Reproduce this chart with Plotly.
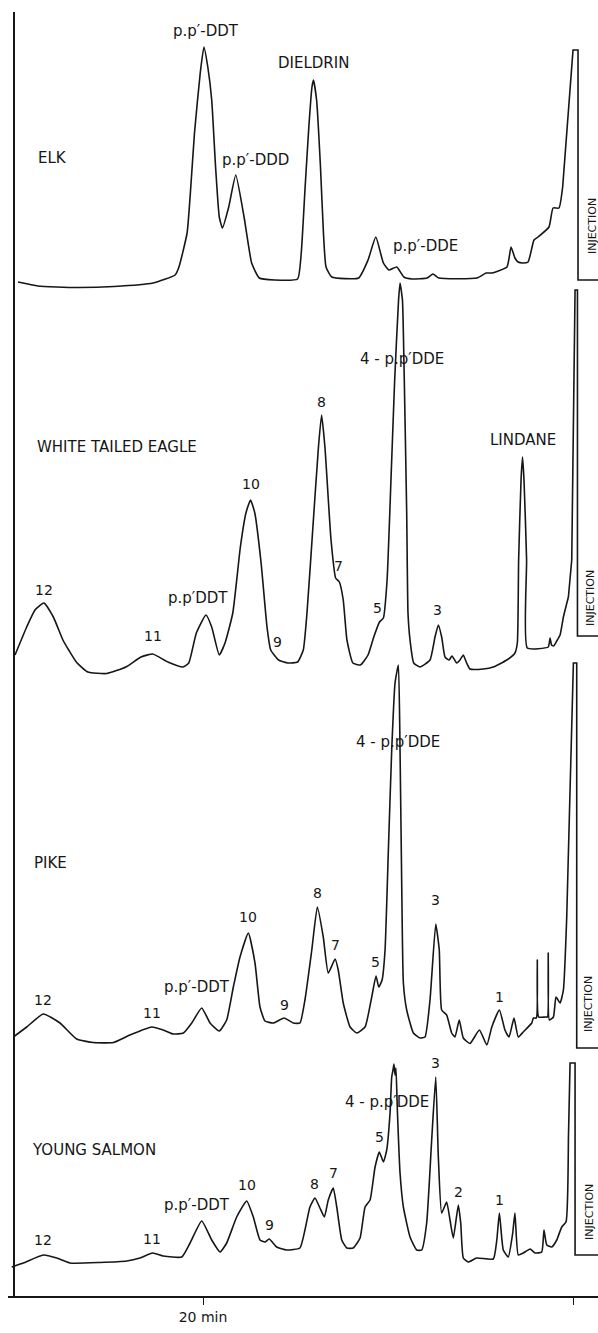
import plotly.graph_objects as go

# ---------------- data (retention time in min, detector response in chart units) ----------------
SAMPLES = ["ELK", "WHITE TAILED EAGLE", "PIKE", "YOUNG SALMON"]

ELK_T = [30.00, 28.92, 26.86, 24.81, 22.70, 21.51, 21.30, 20.86, 20.66, 20.46, 20.15, 19.95, 19.74,
         19.53, 19.32, 19.12, 18.95, 18.61, 18.23, 17.78, 17.37, 16.96, 16.13, 14.89, 14.69, 14.48,
         14.28, 14.11, 14.03, 13.86, 13.65, 13.49, 13.35, 13.04, 11.59, 11.08, 10.66, 10.25, 9.95,
         9.53, 9.14, 8.70, 7.89, 7.57, 7.26, 5.19, 4.70, 4.38, 3.57, 3.35, 3.14, 2.97, 2.73, 2.43,
         2.11, 1.89, 1.30, 1.08, 0.76, 0.56, 0.00, -0.27, -0.27, -1.35]
ELK_R = [5, 1, -0.5, 0.5, 4, 12, 20, 54, 100, 154, 214, 240, 220, 187, 120, 70, 59, 80, 112, 70, 24,
         9, 7, 8, 34, 100, 160, 200, 207, 187, 120, 54, 20, 10, 9, 27, 50, 24, 17, 20, 10, 8, 9, 13,
         9, 9, 14, 14, 20, 40, 29, 25, 24, 25, 47, 50, 60, 79, 79, 100, 237, 237, 7, 7]

EAGLE_T = [30.16, 29.53, 29.08, 28.60, 28.09, 27.57, 27.26, 26.85, 26.23, 25.20, 24.17, 23.35, 22.72,
           21.90, 21.08, 20.77, 20.36, 19.84, 19.53, 19.12, 18.81, 18.39, 17.98, 17.68, 17.43, 17.20,
           16.86, 16.54, 16.34, 15.92, 15.41, 14.89, 14.58, 14.38, 14.07, 13.76, 13.59, 13.41, 13.08,
           12.83, 12.63, 12.42, 12.22, 11.90, 11.49, 11.08, 10.77, 10.46, 10.25, 10.05, 9.84, 9.64,
           9.43, 9.35, 9.22, 9.12, 8.99, 8.92, 8.81, 8.61, 8.27, 7.73, 7.46, 7.28, 7.10, 6.92, 6.70,
           6.54, 6.29, 6.11, 5.93, 5.75, 5.57, 4.85, 4.31, 3.58, 3.14, 3.01, 2.94, 2.81, 2.73, 2.65,
           2.51, 2.47, 1.34, 1.24, 1.16, 1.05, 0.88, 0.70, 0.52, 0.25, 0.07, -0.11, -0.24, -0.24, -1.35]
EAGLE_R = [18, 46, 63, 70, 56, 33, 23, 11, 1, -0.5, 6, 16, 19, 11, 6, 10, 40, 58, 46, 18, 30, 60, 126,
           160, 173, 160, 110, 46, 23, 13, 10, 11, 23, 60, 143, 226, 258, 226, 133, 95, 91, 73, 33,
           10, 8, 18, 36, 51, 55, 93, 193, 293, 373, 390, 373, 293, 160, 60, 33, 10, 6, 13, 36, 48,
           36, 16, 13, 17, 10, 13, 18, 10, 4, 4, 6, 13, 20, 30, 113, 193, 216, 193, 113, 25, 26, 35,
           28, 27, 32, 38, 56, 76, 113, 383, 383, 37, 37]

PIKE_T = [30.25, 29.53, 28.63, 27.73, 26.83, 25.93, 24.85, 23.95, 22.77, 22.15, 21.61, 21.06, 20.61,
          20.07, 19.62, 19.12, 18.72, 18.36, 18.00, 17.55, 17.19, 16.92, 16.65, 16.20, 15.62, 15.12,
          14.76, 14.49, 14.12, 13.82, 13.50, 13.23, 12.86, 12.69, 12.42, 12.05, 11.69, 11.24, 10.88,
          10.65, 10.50, 10.32, 10.16, 9.98, 9.80, 9.62, 9.44, 9.35, 9.26, 9.17, 8.99, 8.63, 8.27,
          8.00, 7.73, 7.42, 7.23, 7.10, 6.83, 6.56, 6.38, 6.15, 5.93, 5.57, 5.06, 4.66, 4.39, 3.98,
          3.68, 3.46, 3.19, 2.96, 2.69, 2.23, 2.14, 1.98, 1.93, 1.86, 1.51, 1.38, 1.34, 1.28, 1.06,
          0.92, 0.70, 0.52, 0.34, 0.07, -0.02, -0.20, -0.20, -1.35]
PIKE_R = [6, 16, 29, 20, 4, 0.5, 0.5, 8, 16, 13, 9, 10, 20, 35, 20, 12, 23, 56, 86, 110, 80, 36, 22,
          20, 25, 20, 20, 43, 93, 136, 106, 70, 84, 73, 40, 16, 10, 16, 46, 67, 56, 63, 93, 193, 293,
          360, 378, 293, 160, 60, 33, 10, 5, 6, 43, 119, 93, 33, 28, 10, 6, 23, 5, -0.5, 13, -2, 16,
          33, 13, 6, 25, 6, 11, 20, 25, 25, 83, 26, 26, 26, 90, 23, 26, 46, 40, 53, 126, 326, 380,
          380, -5, -5]

SALMON_T = [30.34, 29.71, 28.63, 27.91, 27.19, 25.57, 24.12, 23.41, 22.72, 22.15, 21.15, 20.70, 20.07,
            19.53, 19.08, 18.72, 18.18, 17.64, 17.28, 16.92, 16.65, 16.42, 16.02, 15.48, 14.76, 14.49,
            14.22, 13.95, 13.68, 13.44, 13.23, 12.96, 12.77, 12.50, 12.23, 11.88, 11.51, 11.24, 10.97,
            10.70, 10.47, 10.25, 10.07, 9.89, 9.80, 9.73, 9.68, 9.62, 9.57, 9.50, 9.35, 9.17, 8.81,
            8.45, 8.18, 7.91, 7.64, 7.42, 7.28, 7.10, 6.83, 6.65, 6.47, 6.20, 6.07, 5.93, 5.66, 5.21,
            4.31, 4.12, 3.98, 3.77, 3.50, 3.26, 3.14, 2.96, 2.69, 2.32, 2.05, 1.69, 1.57, 1.42, 1.15,
            0.88, 0.61, 0.38, 0.25, 0.16, -0.11, -0.11, -1.35]
SALMON_R = [-4, 0, 8, 5, 0, 0.5, 2, 5, 10, 7, 6, 20, 42, 23, 11, 20, 46, 62, 46, 23, 21, 24, 16, 13,
            15, 33, 56, 65, 55, 46, 63, 75, 56, 23, 15, 15, 25, 56, 63, 96, 111, 101, 113, 150, 186,
            193, 199, 188, 195, 156, 90, 56, 26, 13, 13, 40, 123, 186, 106, 50, 61, 43, 25, 58, 40, 5,
            1, 5, 4, 23, 50, 13, 6, 30, 50, 8, 10, 14, 10, 11, 33, 18, 16, 23, 36, 41, 123, 200, 200,
            8, 8]

# peak labels: (text, retention time, response)
ELK_LABELS = [("p.p′-DDT", 19.84, 256), ("p.p′-DDD", 17.14, 127), ("DIELDRIN", 14.03, 224),
              ("p.p′-DDE", 8.00, 41)]
EAGLE_LABELS = [("12", 28.60, 83), ("11", 22.72, 37), ("p.p′DDT", 20.27, 75), ("10", 17.43, 189),
                ("9", 15.95, 31), ("8", 13.59, 271), ("7", 12.66, 107), ("5", 10.56, 65),
                ("4 - p.p′DDE", 9.24, 314), ("3", 7.31, 63), ("LINDANE", 2.73, 233)]
PIKE_LABELS = [("12", 28.63, 43), ("11", 22.77, 30), ("p.p′-DDT", 20.34, 56), ("10", 17.55, 126),
               ("9", 15.62, 38), ("8", 13.82, 150), ("7", 12.86, 98), ("5", 10.65, 81),
               ("4 - p.p′DDE", 9.44, 301), ("3", 7.42, 143), ("1", 3.98, 46)]
SALMON_LABELS = [("12", 28.63, 23), ("11", 22.77, 24), ("p.p′-DDT", 20.34, 58), ("10", 17.64, 78),
                 ("9", 16.38, 38), ("8", 13.95, 79), ("7", 12.96, 90), ("5", 10.47, 126),
                 ("4 - p.p′DDE", 10.07, 161), ("3", 7.42, 200), ("2", 6.20, 71), ("1", 3.98, 63)]
NAME_POS = [(29.03, 129), (29.08, 226), (29.26, 180), (29.35, 113)]
INJECTION_POS = [(-1.03, 61), (-0.92, 75), (-0.81, 39), (-0.86, 51)]

X_TICKS = [20, 0]
X_TICKTEXT = ["20 min", ""]

# ---------------- layout constants ----------------
W, H = 598, 1333
FRAME_TOP, FRAME_BOTTOM = 12, 1297      # pixel rows of the frame
FRAME_LEFT = 8
BASE_ROWS = [287, 673, 1043, 1263]      # pixel row of each trace's baseline (1 unit = 1 px)
X_RANGE = [30.54, -1.35]
INJECTION_SPLIT = 0.2                   # min; recorder pen at injection drawn with straight strokes
INK = "#161616"
FONT = "DejaVu Sans"

fig = go.Figure()
series = [(ELK_T, ELK_R), (EAGLE_T, EAGLE_R), (PIKE_T, PIKE_R), (SALMON_T, SALMON_R)]
axes = ["y", "y2", "y3", "y4"]
for (t, r), ax, name in zip(series, axes, SAMPLES):
    k = next(i for i, v in enumerate(t) if v < INJECTION_SPLIT)
    fig.add_trace(go.Scatter(x=t[:k], y=r[:k], yaxis=ax, mode="lines", name=name, showlegend=False,
                             hoverinfo="skip",
                             line=dict(color=INK, width=1.6, shape="spline", smoothing=0.45)))
    fig.add_trace(go.Scatter(x=t[k - 1:], y=r[k - 1:], yaxis=ax, mode="lines", name=name,
                             showlegend=False, hoverinfo="skip",
                             line=dict(color=INK, width=1.6, shape="linear")))

dom = [(H - FRAME_BOTTOM) / H, (H - FRAME_TOP) / H]


def yrange(base):
    return [base - FRAME_BOTTOM, base - FRAME_TOP]


layout = dict(
    width=W, height=H, margin=dict(l=0, r=0, t=0, b=0),
    paper_bgcolor="white", plot_bgcolor="white", showlegend=False,
    xaxis=dict(domain=[FRAME_LEFT / W, 1], range=X_RANGE, anchor="free", position=dom[0],
               showline=True, linecolor=INK, linewidth=1.8, showgrid=False, zeroline=False,
               ticks="outside", ticklen=7, tickwidth=1.3, tickcolor=INK,
               tickvals=X_TICKS, ticktext=X_TICKTEXT,
               tickfont=dict(family=FONT, size=14, color=INK)),
    yaxis=dict(domain=dom, range=yrange(BASE_ROWS[0]), anchor="free", position=14 / W,
               showline=True, linecolor=INK, linewidth=1.6, showgrid=False, zeroline=False,
               showticklabels=False, ticks=""),
)
for i in range(1, 4):
    layout[f"yaxis{i + 1}"] = dict(overlaying="y", range=yrange(BASE_ROWS[i]), visible=False,
                                   showgrid=False, zeroline=False)
fig.update_layout(**layout)


def label(text, t, r, ax, size=14, xanchor="center", angle=0):
    fig.add_annotation(text=text, x=t, y=r, xref="x", yref=ax, showarrow=False,
                       xanchor=xanchor, yanchor="middle", textangle=angle,
                       font=dict(family=FONT, size=size, color=INK))


for labels, ax in zip([ELK_LABELS, EAGLE_LABELS, PIKE_LABELS, SALMON_LABELS], axes):
    for text, t, r in labels:
        label(text, t, r, ax, size=14 if len(text) <= 2 else 15)

for name, (t, r), ax in zip(SAMPLES, NAME_POS, axes):
    label(name, t, r, ax, size=15, xanchor="left")

for (t, r), ax in zip(INJECTION_POS, axes):
    label("INJECTION", t, r, ax, size=11, angle=-90)

fig.write_html("out.html",
               post_script="document.body.style.margin='0';document.body.style.overflow='hidden';",
               config={"displayModeBar": False})
